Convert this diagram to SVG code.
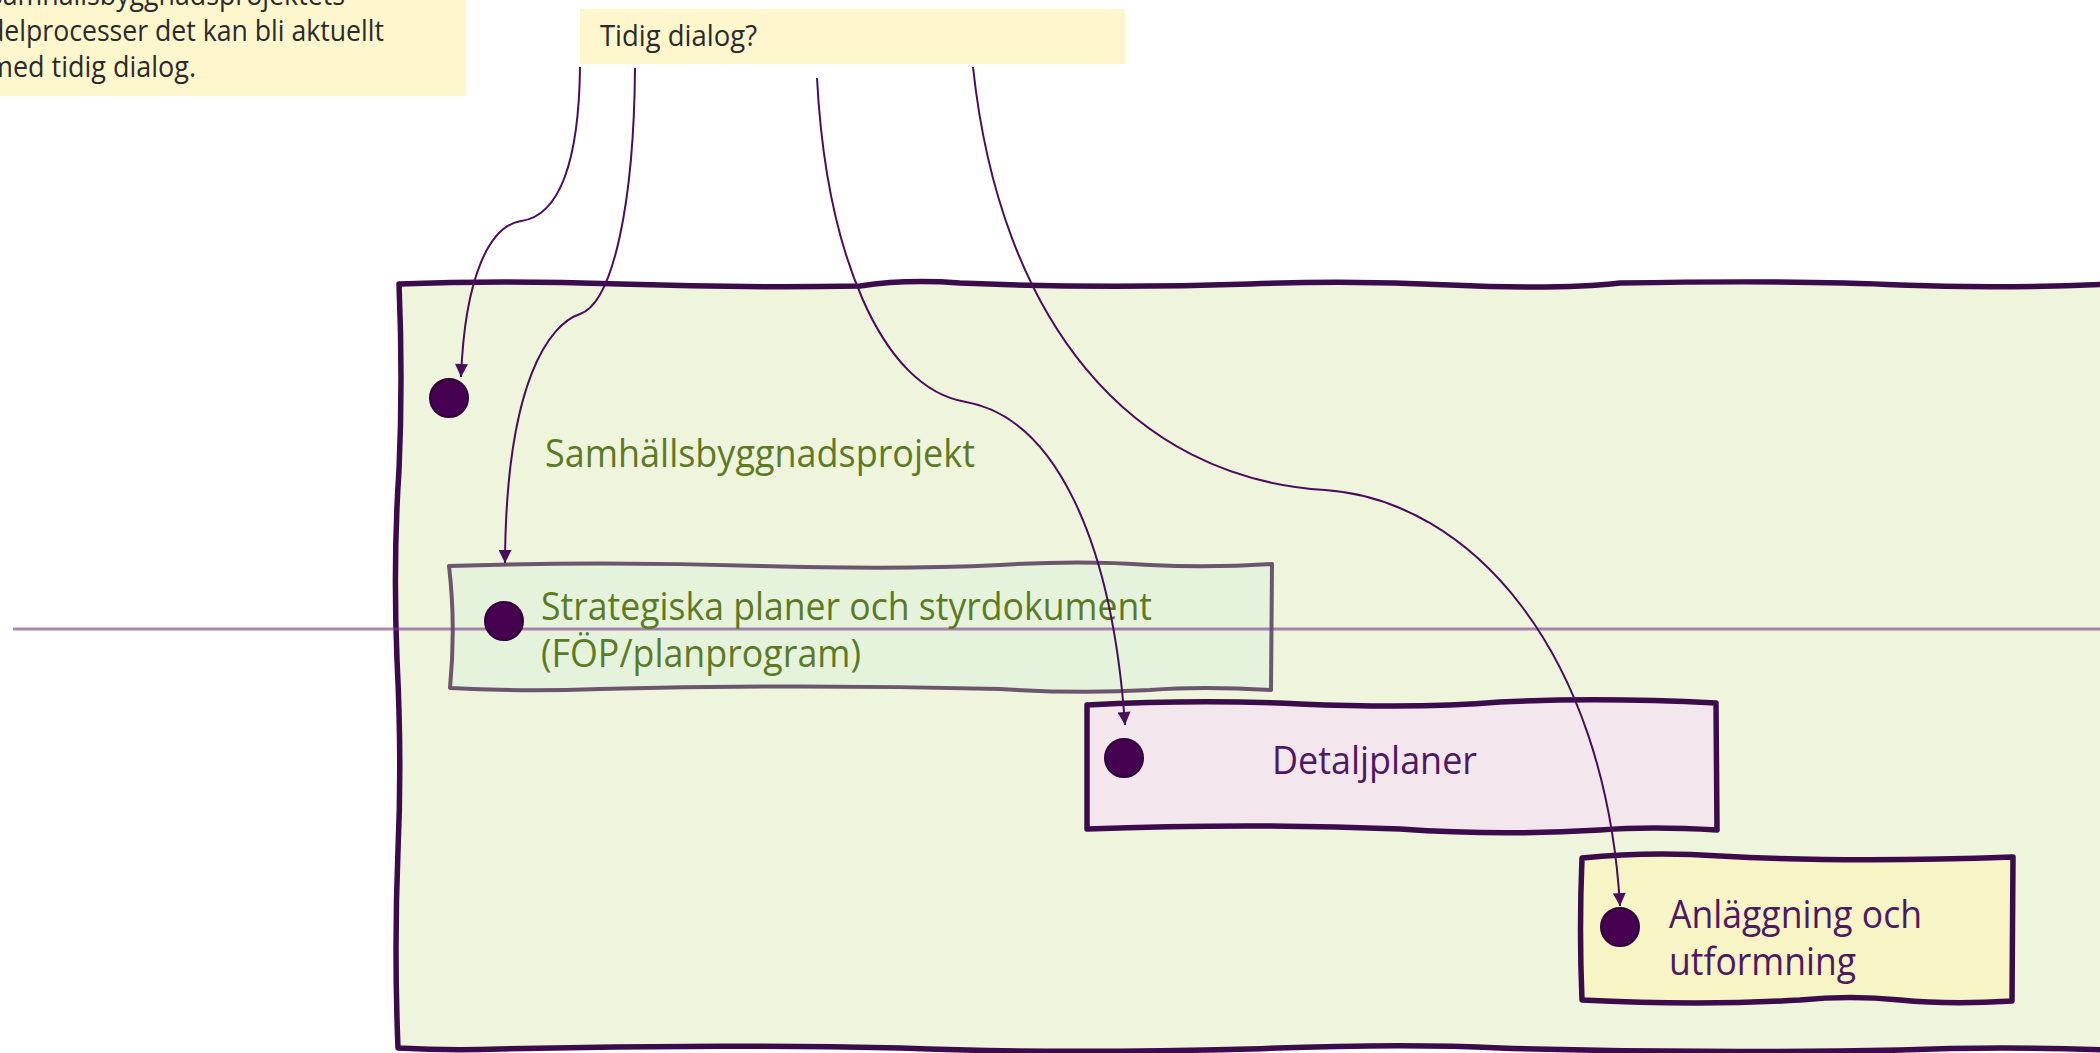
<svg xmlns="http://www.w3.org/2000/svg" width="2100" height="1053" viewBox="0 0 2100 1053">
<defs>
<style>
.note{fill:#fef6cd}
.ntext{font-family:"Liberation Sans Narrow","Open Sans","Noto Sans",sans-serif;font-size:29px;fill:#2b2b2b}
.lbl{font-family:"Liberation Sans Narrow","Open Sans","Noto Sans",sans-serif;font-size:38px}
.green{fill:#5c7a24}
.purple{fill:#4f1862}
.dot{fill:#45004f;stroke:#33003d;stroke-width:2}
.edge{fill:none;stroke:#4b0c5e;stroke-width:2;marker-end:url(#arr)}
.dark{stroke:#3b0b4b;stroke-width:5.5;stroke-linejoin:round}
</style>
<marker id="arr" viewBox="0 0 10 10" refX="10" refY="5" markerWidth="14" markerHeight="13" markerUnits="userSpaceOnUse" orient="auto">
<path d="M0,0 L10,5 L0,10 z" fill="#4b0c5e"/>
</marker>
</defs>
<rect width="2100" height="1053" fill="#ffffff"/>

<g id="note-left">
<rect class="note" x="-5" y="-20" width="471" height="116"/>
<text class="ntext" x="-12" y="5" textLength="357" lengthAdjust="spacingAndGlyphs">Samhällsbyggnadsprojektets</text>
<text class="ntext" x="-12" y="41" textLength="396" lengthAdjust="spacingAndGlyphs">delprocesser det kan bli aktuellt</text>
<text class="ntext" x="-12" y="77" textLength="208" lengthAdjust="spacingAndGlyphs">med tidig dialog.</text>
</g>

<g id="note-tidig">
<rect class="note" x="580" y="9" width="545" height="55"/>
<text class="ntext" x="600" y="46" textLength="157" lengthAdjust="spacingAndGlyphs">Tidig dialog?</text>
</g>

<g id="samhallsbyggnadsprojekt">
<path class="dark" fill="#eff4dc" d="M399,284 Q500,280 620,284 Q740,288 860,286 Q905,279 960,283 Q1100,289 1250,284 Q1350,280 1450,285 Q1560,290 1620,283 Q1800,280 1900,285 Q2000,289 2110,284 L2110,1050 Q2000,1046 1900,1050 Q1700,1054 1500,1048 Q1400,1043 1250,1049 Q1050,1054 900,1048 Q700,1044 500,1049 Q450,1051 398,1048 Q394,950 398,850 Q402,760 397,660 Q393,560 399,470 Q403,380 399,284 Z"/>
<text class="lbl green" x="545" y="467" textLength="430" lengthAdjust="spacingAndGlyphs">Samhällsbyggnadsprojekt</text>
</g>

<g id="strategiska">
<path fill="#e5f3dc" stroke="#6b566e" stroke-width="4" stroke-linejoin="round" d="M449,566 Q600,561 760,566 Q900,570 1000,565 Q1080,560 1150,565 Q1210,568 1272,564 L1271,690 Q1200,686 1150,690 Q1080,694 1000,689 Q800,684 600,689 Q520,692 450,688 Q456,625 449,566 Z"/>
</g>

<g id="detaljplaner">
<path class="dark" fill="#f3e7ed" d="M1087,705 Q1200,699 1300,704 Q1420,709 1500,702 Q1600,697 1716,703 L1717,830 Q1650,826 1600,830 Q1500,836 1400,829 Q1250,823 1087,829 Z"/>
</g>

<g id="anlaggning">
<path class="dark" fill="#f7f4c5" d="M1582,858 Q1650,851 1720,856 Q1850,863 2013,857 L2012,1001 Q1950,1005 1900,1000 Q1850,995 1800,1000 Q1700,1006 1582,1000 Q1579,930 1582,858 Z"/>
</g>

<g id="tidslinje">
<line x1="13" y1="629" x2="2100" y2="629" stroke="#7a3a8a" stroke-opacity="0.62" stroke-width="3"/>
</g>

<g id="labels">
<circle class="dot" cx="449" cy="398" r="19"/>
<circle class="dot" cx="504" cy="621" r="19"/>
<text class="lbl green" x="541" y="620" textLength="611" lengthAdjust="spacingAndGlyphs">Strategiska planer och styrdokument</text>
<text class="lbl green" x="541" y="667" textLength="320" lengthAdjust="spacingAndGlyphs">(FÖP/planprogram)</text>
<circle class="dot" cx="1124" cy="758" r="19"/>
<text class="lbl purple" x="1272" y="774" textLength="205" lengthAdjust="spacingAndGlyphs">Detaljplaner</text>
<circle class="dot" cx="1620" cy="927" r="19"/>
<text class="lbl purple" x="1669" y="928" textLength="253" lengthAdjust="spacingAndGlyphs">Anläggning och</text>
<text class="lbl purple" x="1669" y="975" textLength="187" lengthAdjust="spacingAndGlyphs">utformning</text>
</g>

<g id="connectors">
<path class="edge" d="M580,67 C579,160 560,216 521,221 C490,226 465,275 461,377"/>
<path class="edge" d="M635,68 C634,200 614,302 580,314 C550,324 506,380 505,563"/>
<path class="edge" d="M817,78 C826,250 880,388 966,402 C1055,418 1112,540 1125,725"/>
<path class="edge" d="M973,67 C1000,320 1130,478 1325,490 C1470,500 1605,650 1620,906"/>
</g>
</svg>
